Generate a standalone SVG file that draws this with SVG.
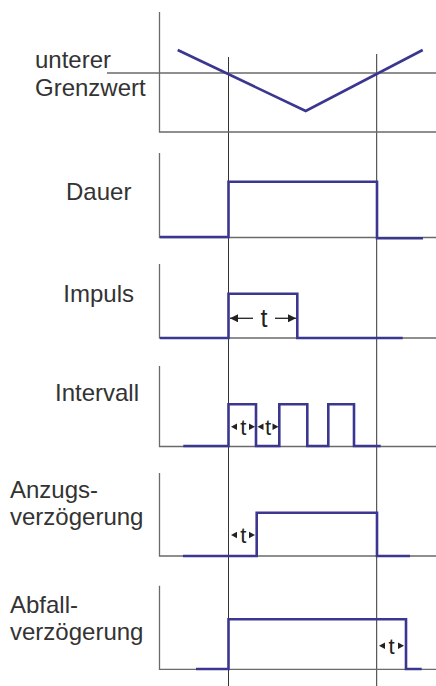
<svg xmlns="http://www.w3.org/2000/svg" width="436" height="686" viewBox="0 0 436 686">
  <defs>
    <style>
      .lbl { font-family: "Liberation Sans", Arial, sans-serif; font-size: 24px; fill: #333; }
      .t { font-family: "Liberation Sans", Arial, sans-serif; font-size: 22px; fill: #222; text-anchor: middle; }
      .tb { font-size: 25px; }
      .axis { stroke: #6a6a6a; stroke-width: 1.3; fill: none; }
      .guide { stroke: #333; stroke-width: 1; fill: none; }
      .sig { stroke: #3b3791; stroke-width: 2.6; fill: none; stroke-linejoin: miter; }
      .dim { stroke: #222; stroke-width: 1.3; fill: none; }
      .head { fill: #222; }
    </style>
    <marker id="arr" viewBox="0 0 8 8" refX="8" refY="4" markerWidth="8" markerHeight="8" markerUnits="userSpaceOnUse" orient="auto">
      <path d="M0,0 L8,4 L0,8 Z" class="head"/>
    </marker>
  </defs>

  <rect width="436" height="686" fill="#fff"/>

  <!-- vertical time guides -->
  <g id="guides">
    <line class="guide" x1="228.5" y1="57" x2="228.5" y2="686"/>
    <line class="guide" x1="376.7" y1="54" x2="376.7" y2="686"/>
  </g>

  <!-- threshold / measured value -->
  <g id="grenzwert">
    <polyline class="axis" points="159.5,12 159.5,132 436,132"/>
    <line class="axis" x1="107" y1="73" x2="436" y2="73"/>
    <polyline class="sig" points="177.7,50 305.7,111 422.7,50"/>
    <text class="lbl" x="35" y="68">unterer</text>
    <text class="lbl" x="35" y="96">Grenzwert</text>
  </g>

  <!-- Dauer -->
  <g id="dauer">
    <polyline class="axis" points="159.5,153 159.5,237.5 436,237.5"/>
    <polyline class="sig" points="160,237 228.5,237 228.5,181.7 377,181.7 377,238.3 423,238.3"/>
    <text class="lbl" x="66" y="200">Dauer</text>
  </g>

  <!-- Impuls -->
  <g id="impuls">
    <polyline class="axis" points="159.5,264 159.5,338 436,338"/>
    <polyline class="sig" points="160,338 228.5,338 228.5,293.7 297.3,293.7 297.3,338 402.7,338"/>
    <line class="dim" x1="253" y1="318.3" x2="230" y2="318.3" marker-end="url(#arr)"/>
    <line class="dim" x1="275" y1="318.3" x2="296" y2="318.3" marker-end="url(#arr)"/>
    <text class="t tb" x="264" y="327">t</text>
    <text class="lbl" x="63.3" y="302.3">Impuls</text>
  </g>

  <!-- Intervall -->
  <g id="intervall">
    <polyline class="axis" points="159.5,366 159.5,446.5 436,446.5"/>
    <polyline class="sig" points="183.3,446 228.5,446 228.5,404.3 256,404.3 256,446 279.3,446 279.3,404.3 307.3,404.3 307.3,446 328.3,446 328.3,404.3 354,404.3 354,446 380.7,446"/>
    <path class="head" d="M231,426.7 L237,423.5 L237,429.9 Z"/>
    <path class="head" d="M255,426.7 L249,423.5 L249,429.9 Z"/>
    <path class="head" d="M257.5,426.7 L263.5,423.5 L263.5,429.9 Z"/>
    <path class="head" d="M278.5,426.7 L272.5,423.5 L272.5,429.9 Z"/>
    <text class="t" x="243.3" y="434.5">t</text>
    <text class="t" x="268" y="434.5">t</text>
    <text class="lbl" x="55" y="401">Intervall</text>
  </g>

  <!-- Anzugsverzögerung -->
  <g id="anzug">
    <polyline class="axis" points="159.5,473 159.5,556 436,556"/>
    <polyline class="sig" points="183,556 256.7,556 256.7,512.7 377,512.7 377,556 410,556"/>
    <path class="head" d="M231,535 L237,531.8 L237,538.2 Z"/>
    <path class="head" d="M255,535 L249,531.8 L249,538.2 Z"/>
    <text class="t" x="243.3" y="543">t</text>
    <text class="lbl" x="10" y="498">Anzugs-</text>
    <text class="lbl" x="10" y="525">verzögerung</text>
  </g>

  <!-- Abfallverzögerung -->
  <g id="abfall">
    <polyline class="axis" points="159.5,585.7 159.5,669.3 436,669.3"/>
    <polyline class="sig" points="196,669 228.5,669 228.5,619.3 406,619.3 406,669 421.7,669"/>
    <path class="head" d="M379,645.7 L385,642.5 L385,648.9 Z"/>
    <path class="head" d="M404,645.7 L398,642.5 L398,648.9 Z"/>
    <text class="t" x="391.5" y="653.5">t</text>
    <text class="lbl" x="10" y="613">Abfall-</text>
    <text class="lbl" x="10" y="640">verzögerung</text>
  </g>
</svg>
